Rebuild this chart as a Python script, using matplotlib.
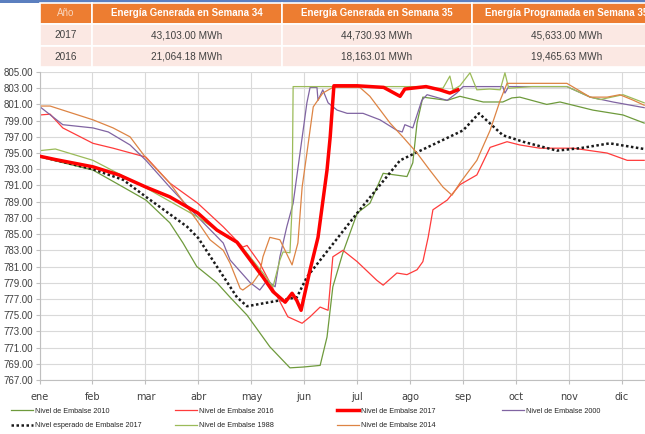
# -*- coding: utf-8 -*-
import matplotlib
matplotlib.use('Agg')
import matplotlib.pyplot as plt
from matplotlib.patches import Rectangle

plt.rcParams['font.family'] = ['Liberation Sans', 'DejaVu Sans']

# ---------------- datos de la tabla ----------------
encabezados = ['Año', 'Energía Generada en Semana 34', 'Energía Generada en Semana 35',
               'Energía Programada en Semana 35']
anios = ['2017', '2016']
gen_sem34 = ['43,103.00 MWh', '21,064.18 MWh']
gen_sem35 = ['44,730.93 MWh', '18,163.01 MWh']
prog_sem35 = ['45,633.00 MWh', '19,465.63 MWh']

# ---------------- datos de las curvas (mes: 0 = ene, 1 = feb, ...) ----------------
meses = ['ene', 'feb', 'mar', 'abr', 'may', 'jun', 'jul', 'ago', 'sep', 'oct', 'nov', 'dic']

# Nivel de Embalse 2010
x_2010 = [0.01, 1.01, 1.58, 2.01, 2.46, 2.71, 2.97, 3.35, 3.6, 3.92, 4.35, 4.73, 4.98, 5.3, 5.43,
          5.54, 5.73, 6.0, 6.24, 6.49, 6.94, 7.05, 7.13, 7.24, 7.7, 7.94, 8.38, 8.75, 8.92, 9.07,
          9.58, 9.83, 10.45, 11.02, 11.42]
y_2010 = [794.5, 792.9, 790.8, 789.2, 786.4, 783.9, 781.0, 779.0, 777.2, 775.0, 771.1, 768.5,
          768.6, 768.8, 772.3, 778.5, 782.7, 787.6, 788.8, 792.5, 792.1, 793.8, 798.7, 801.9,
          801.5, 802.0, 801.3, 801.3, 801.8, 801.9, 801.0, 801.3, 800.3, 799.7, 798.7]

# Nivel de Embalse 2016
x_2016 = [0.01, 0.2, 0.44, 1.01, 1.39, 2.01, 2.46, 2.99, 3.47, 3.84, 3.92, 4.16, 4.69, 4.96,
          5.11, 5.3, 5.45, 5.54, 5.73, 6.0, 6.37, 6.49, 6.75, 6.94, 7.13, 7.24, 7.34, 7.43, 7.7,
          7.94, 8.26, 8.51, 8.83, 9.07, 9.45, 10.08, 10.72, 11.1, 11.42]
y_2016 = [799.7, 799.8, 798.1, 796.2, 795.6, 794.5, 791.3, 788.8, 785.9, 783.4, 783.6, 781.4,
          774.8, 774.0, 774.8, 776.0, 775.6, 782.2, 783.0, 781.6, 779.3, 778.7, 780.2, 780.0,
          780.6, 781.6, 784.6, 788.0, 789.2, 791.1, 792.3, 795.7, 796.4, 796.0, 795.6, 795.6,
          795.0, 794.1, 794.1]

# Nivel de Embalse 2017
x_2017 = [0.01, 0.3, 1.01, 1.5, 2.01, 2.46, 2.99, 3.35, 3.73, 3.98, 4.22, 4.41, 4.64, 4.77,
          4.86, 4.94, 5.11, 5.26, 5.43, 5.49, 5.56, 6.0, 6.5, 6.81, 6.9, 7.3, 7.56, 7.75, 7.9]
y_2017 = [794.6, 794.2, 793.3, 792.3, 790.8, 789.6, 787.6, 785.5, 784.0, 781.8, 779.7, 777.9,
          776.6, 777.7, 776.8, 775.6, 780.6, 784.6, 792.9, 797.0, 803.3, 803.3, 803.1, 802.0,
          802.9, 803.2, 802.8, 802.4, 802.8]

# Nivel de Embalse 2000
x_2000 = [0.01, 0.44, 1.01, 1.3, 1.71, 2.01, 2.46, 2.99, 3.47, 3.6, 3.98, 4.16, 4.3, 4.45,
          4.54, 4.67, 4.79, 4.92, 5.05, 5.11, 5.24, 5.26, 5.35, 5.45, 5.62, 5.81, 6.11, 6.43,
          6.75, 6.85, 6.9, 7.05, 7.22, 7.32, 7.7, 7.88, 8.0, 8.75, 8.79, 8.86, 9.96, 10.4,
          10.83, 11.42]
y_2000 = [800.7, 798.5, 798.1, 797.6, 796.0, 794.1, 790.8, 787.1, 783.9, 781.8, 779.0, 778.1,
          779.3, 778.5, 782.2, 785.9, 788.8, 795.0, 801.2, 803.1, 803.1, 801.5, 802.8, 801.2,
          800.3, 799.9, 799.9, 799.1, 797.8, 797.6, 798.5, 798.1, 801.5, 802.2, 801.5, 802.4,
          803.2, 803.2, 802.4, 803.2, 803.2, 801.9, 801.3, 800.6]

# Nivel esperado de Embalse 2017
x_esp = [0.01, 1.01, 1.58, 2.01, 2.79, 3.0, 3.35, 3.73, 3.92, 4.86, 5.05, 6.0, 6.81, 7.13,
         8.0, 8.3, 8.75, 9.13, 9.77, 10.21, 10.77, 11.42]
y_esp = [794.6, 793.0, 791.7, 789.6, 785.9, 784.5, 781.0, 777.2, 776.1, 777.2, 779.7, 787.6,
         794.1, 795.1, 797.8, 799.9, 797.2, 796.4, 795.3, 795.6, 796.2, 795.5]

# Nivel de Embalse 1988
x_1988 = [0.01, 0.3, 1.01, 2.01, 2.99, 3.47, 3.79, 4.22, 4.41, 4.54, 4.6, 4.73, 4.77, 4.79,
          7.2, 7.5, 7.62, 7.75, 7.81, 7.94, 8.13, 8.26, 8.5, 8.7, 8.79, 8.86, 9.3, 9.96, 10.4,
          10.59, 11.02, 11.42]
y_1988 = [795.3, 795.5, 794.1, 790.7, 787.1, 784.9, 783.7, 780.2, 778.5, 781.8, 782.8, 782.7,
          788.3, 803.2, 803.2, 803.0, 803.0, 804.5, 802.8, 803.3, 804.9, 802.8, 802.9, 802.8,
          804.9, 803.0, 803.2, 803.2, 801.9, 801.6, 802.2, 801.2]

# Nivel de Embalse 2014
x_2014 = [0.01, 0.2, 1.01, 1.39, 1.71, 2.01, 2.46, 2.97, 3.22, 3.47, 3.6, 3.79, 3.84, 4.03,
          4.16, 4.22, 4.35, 4.54, 4.77, 4.88, 4.96, 5.05, 5.17, 5.35, 5.54, 6.05, 6.24, 6.62,
          6.86, 7.13, 7.37, 7.62, 7.79, 7.94, 8.26, 8.51, 8.7, 8.83, 9.96, 10.4, 10.72, 10.96,
          11.22, 11.42]
y_2014 = [800.8, 800.8, 799.1, 798.1, 797.0, 794.4, 791.3, 786.7, 784.3, 783.0, 781.4, 778.3,
          778.1, 779.0, 780.2, 782.2, 784.6, 784.3, 781.2, 783.9, 790.8, 795.0, 800.7, 802.4,
          803.1, 803.1, 802.0, 798.7, 797.0, 795.0, 792.9, 790.8, 789.8, 791.3, 794.1, 797.8,
          801.5, 803.6, 803.6, 801.9, 801.9, 802.2, 801.5, 800.9]

W, H = 645, 434


def fx(px):
    return px / W


def fy(py):
    return 1 - py / H


fig = plt.figure(figsize=(W / 100, H / 100), dpi=100)

# franja azul superior
fig.patches.append(Rectangle((0, fy(3)), 1, 3 / H, transform=fig.transFigure,
                             facecolor='#5B7FBF', edgecolor='none'))

# ---------------- tabla ----------------
col_bordes = [40, 92, 282, 472, 662]
fila_bordes = [3, 24, 46, 67]
filas = [encabezados,
         [anios[0], gen_sem34[0], gen_sem35[0], prog_sem35[0]],
         [anios[1], gen_sem34[1], gen_sem35[1], prog_sem35[1]]]
for r in range(3):
    for c in range(4):
        x0, x1 = col_bordes[c], col_bordes[c + 1]
        y0, y1 = fila_bordes[r], fila_bordes[r + 1]
        color = '#ED7D31' if r == 0 else '#FBE8E3'
        fig.patches.append(Rectangle((fx(x0), fy(y1)), (x1 - x0) / W, (y1 - y0) / H,
                                     transform=fig.transFigure, facecolor=color,
                                     edgecolor='white', linewidth=1.2))
        cx = (x0 + x1) / 2
        cy = (y0 + y1) / 2
        if r == 0:
            if c == 0:
                fig.text(fx(cx), fy(cy), filas[r][c], ha='center', va='center',
                         fontsize=7, color='#F8D7C0')
            else:
                fig.text(fx(cx), fy(cy), filas[r][c], ha='center', va='center',
                         fontsize=7, color='white', fontweight='bold')
        else:
            fig.text(fx(cx), fy(cy), filas[r][c], ha='center', va='center',
                     fontsize=7.2, color='#404040')

# ---------------- grafico ----------------
ax = fig.add_axes([fx(39.5), fy(380), (644.5 - 39.5) / W, (380 - 72) / H])

l2010, = ax.plot(x_2010, y_2010, color='#6E9A3C', lw=0.9, label='Nivel de Embalse 2010')
l2016, = ax.plot(x_2016, y_2016, color='#FF3B3B', lw=0.9, label='Nivel de Embalse 2016')
l2000, = ax.plot(x_2000, y_2000, color='#8064A2', lw=0.9, label='Nivel de Embalse 2000')
lesp, = ax.plot(x_esp, y_esp, color='#1A1A1A', lw=1.8, linestyle=(0, (1, 1)),
                dash_capstyle='butt', label='Nivel esperado de Embalse 2017')
l1988, = ax.plot(x_1988, y_1988, color='#9BBB59', lw=0.9, label='Nivel de Embalse 1988')
l2014, = ax.plot(x_2014, y_2014, color='#DD8444', lw=0.9, label='Nivel de Embalse 2014')
l2017, = ax.plot(x_2017, y_2017, color='#FF0000', lw=2.5, zorder=5,
                 label='Nivel de Embalse 2017')

ax.set_xlim(0, 605 / 52.95)
ax.set_ylim(767, 805)
ax.set_yticks(range(767, 806, 2))
ax.set_yticklabels(['%.2f' % v for v in range(767, 806, 2)])
ax.set_xticks(range(12))
ax.set_xticklabels(meses, family='DejaVu Sans')
ax.grid(True, color='#D9D9D9', linewidth=0.8)
ax.set_axisbelow(True)
for s in ['top', 'right']:
    ax.spines[s].set_visible(False)
for s in ['left', 'bottom']:
    ax.spines[s].set_color('#BFBFBF')
    ax.spines[s].set_linewidth(0.8)
ax.tick_params(axis='y', length=3, pad=1.5, labelsize=7, color='#BFBFBF', labelcolor='#404040')
ax.tick_params(axis='x', length=3, pad=6, labelsize=7, color='#BFBFBF', labelcolor='#404040')

# ---------------- leyenda (4 columnas) ----------------
columnas = [[l2010, lesp], [l2016, l1988], [l2017, l2014], [l2000]]
col_x = [11, 175, 337, 502]
for hs, cx in zip(columnas, col_x):
    fig.legend(handles=hs, labels=[h.get_label() for h in hs], loc='upper left',
               bbox_to_anchor=(fx(cx), fy(407.5)), frameon=False, fontsize=5.2,
               handlelength=3.0, handletextpad=0.3, labelspacing=1.05,
               borderpad=0, borderaxespad=0, labelcolor='#262626')

fig.savefig('out.png', dpi=100)
